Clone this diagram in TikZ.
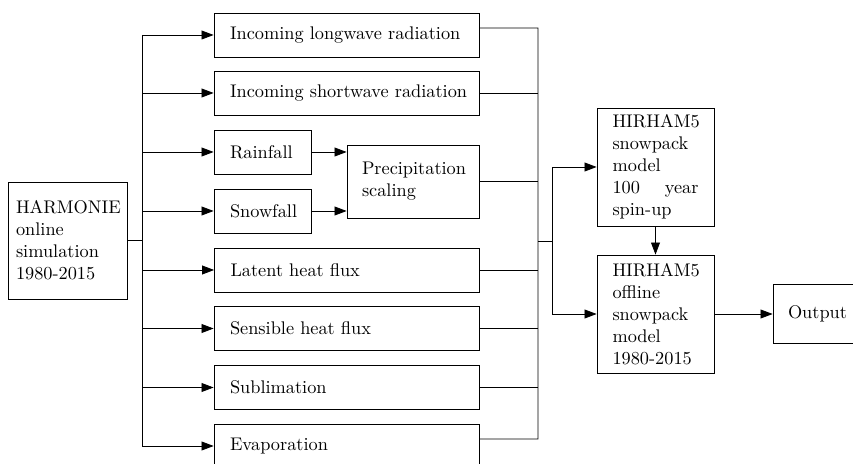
\documentclass[tikz,border=0pt]{standalone}
\usetikzlibrary{arrows.meta}
\newdimen\pxu
\pxu=0.5464pt
\begin{document}
\begin{tikzpicture}[x=0.5464pt,y=-0.5464pt,
  box/.style={draw, inner xsep=16\pxu, inner ysep=2pt, anchor=center},
  arr/.style={-{Triangle[length=6.6pt,width=4.9pt]}},
  line width=0.45pt]
\useasboundingbox (0,0) rectangle (853,464);
% left source
\node[box, inner xsep=8\pxu, text width=103\pxu, align=left, minimum height=117\pxu] (harm) at (67.5,240.5) {HARMONIE\\online\\simulation\\1980-2015};
% forcing boxes
\node[box, minimum width=265\pxu, minimum height=44\pxu] (lw) at (346.5,35) {\makebox[233\pxu][l]{Incoming longwave radiation}};
\node[box, minimum width=265\pxu, minimum height=44\pxu] (sw) at (346.5,93) {\makebox[233\pxu][l]{Incoming shortwave radiation}};
\node[box, minimum width=97\pxu, minimum height=44\pxu] (rain) at (262.5,152) {\makebox[65\pxu][l]{Rainfall}};
\node[box, minimum width=97\pxu, minimum height=44\pxu] (snow) at (262.5,211) {\makebox[65\pxu][l]{Snowfall}};
\node[box, inner xsep=15\pxu, text width=102\pxu, align=left, minimum height=73\pxu] (precip) at (413,181.5) {Precipitation\\scaling};
\node[box, minimum width=265\pxu, minimum height=44\pxu] (lat) at (347,270) {\makebox[233\pxu][l]{Latent heat flux}};
\node[box, minimum width=265\pxu, minimum height=44\pxu] (sens) at (346.5,328.5) {\makebox[233\pxu][l]{Sensible heat flux}};
\node[box, minimum width=265\pxu, minimum height=44\pxu] (subl) at (346.5,387.5) {\makebox[233\pxu][l]{Sublimation}};
\node[box, minimum width=265\pxu, minimum height=44\pxu] (evap) at (346.5,446) {\makebox[233\pxu][l]{Evaporation}};
% models
\node[box, inner xsep=15.5\pxu, text width=86\pxu, align=left, minimum height=118\pxu] (spin) at (655.5,167) {HIRHAM5\\snowpack\\model\\100\hfill year\\spin-up};
\node[box, inner xsep=15.5\pxu, text width=86\pxu, align=left, minimum height=118\pxu] (off) at (655.5,314) {HIRHAM5\\offline\\snowpack\\model\\1980-2015};
\node[box, inner xsep=15\pxu, minimum height=59\pxu] (out) at (816.5,314) {\makebox[57\pxu][l]{Output}};
% left bus
\coordinate (ltop) at (142,35);
\coordinate (lbot) at (142,446);
\draw (harm.east) -- (harm.east -| ltop);
\draw (ltop) -- (lbot);
\foreach \n in {lw,sw,rain,snow,lat,sens,subl,evap}
  \draw[arr] (\n.west -| ltop) -- (\n.west);
% precipitation
\draw[arr] (rain.east) -- (rain.east -| precip.west);
\draw[arr] (snow.east) -- (snow.east -| precip.west);
% right bus
\coordinate (rtop) at (538,28);
\coordinate (rbot) at (538,439);
\coordinate (rmid) at (538,241);
\coordinate (r2) at (552,241);
\draw ([yshift=3.8pt]lw.east) -- (rtop) -- (rbot) -- ([yshift=3.8pt]evap.east);
\foreach \n in {sw,precip,lat,sens,subl}
  \draw (\n.east) -- (\n.east -| rtop);
\draw (rmid) -- (r2);
\draw[arr] (r2) |- (spin.west);
\draw[arr] (r2) |- (off.west);
\draw[arr] (spin.south) -- (off.north);
\draw[arr] (off.east) -- (out.west);
\end{tikzpicture}
\end{document}
